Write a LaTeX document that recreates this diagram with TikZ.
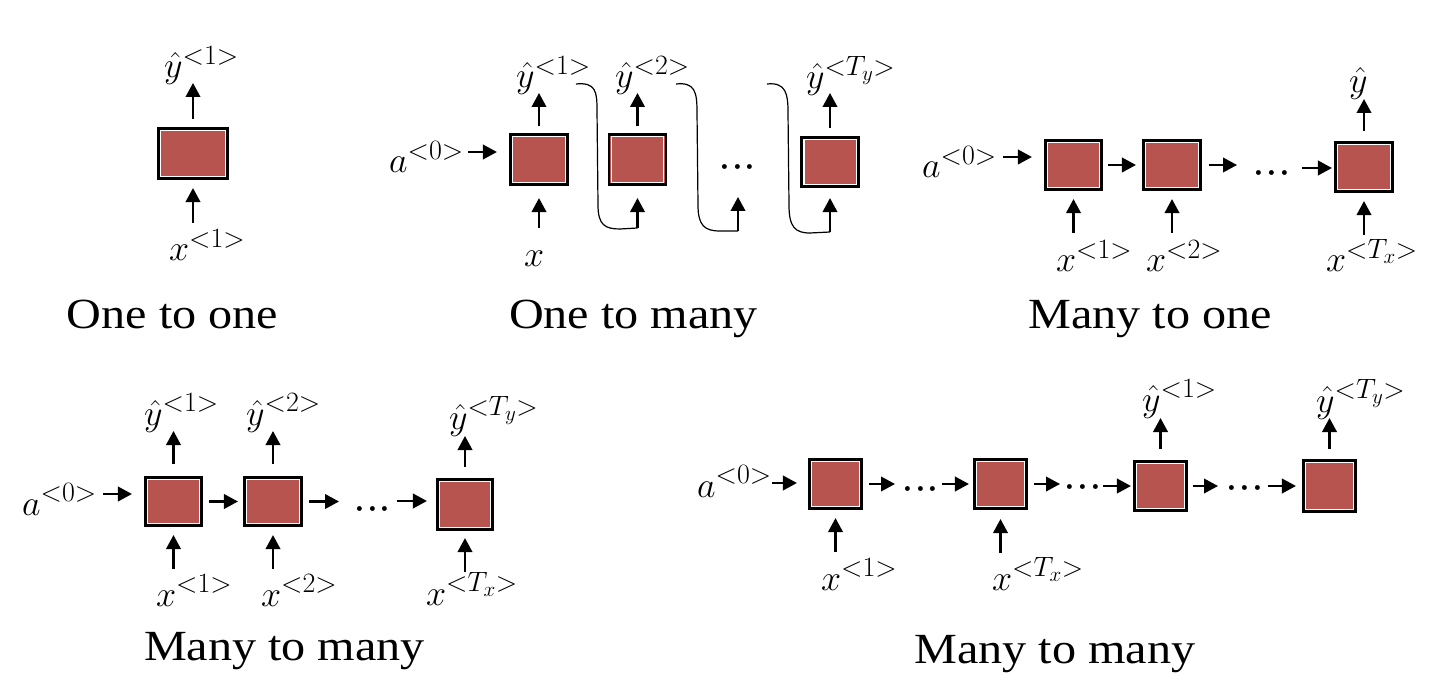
\RequirePackage{fix-cm}
\documentclass[tikz,border=0pt]{standalone}
\usepackage{fontspec}
\newfontfamily\capfont[FakeStretch=1.12]{Liberation Serif}
\usetikzlibrary{arrows.meta,calc}
\DeclareMathSizes{36}{36}{28}{21}
\definecolor{cellred}{RGB}{183,84,80}
\begin{document}
\begin{tikzpicture}[x=1pt,y=-1pt,
  cell/.style={draw=black, line width=2.6pt, fill=cellred, inner sep=0pt,
    path picture={\draw[white, line width=1.1pt]
      ([shift={(2.2pt,-2.2pt)}]path picture bounding box.north west) rectangle
      ([shift={(-2.2pt,2.2pt)}]path picture bounding box.south east);}},
  arr/.style={line width=2.2pt, -{Triangle[length=14pt,width=14.5pt]}},
  link/.style={line width=1.2pt},
  lbl/.style={inner sep=0pt, anchor=base west, font=\fontsize{36}{40}\selectfont},
  captext/.style={inner sep=0pt, anchor=base, font=\capfont\fontsize{43}{50}\selectfont},
  dotsn/.style={inner sep=0pt, anchor=base, font=\fontsize{46}{50}\selectfont}]
\useasboundingbox (0,0) rectangle (1437,676);

% ---------------- Panel 1: One to one ----------------
\node[cell, minimum width=69.5pt, minimum height=50.5pt] (P1) at (193,153.5) {};
\coordinate (p1y) at (193,83);
\coordinate (p1x) at (193,223);
\draw[arr, shorten <=8pt] (P1.north) -- (p1y);
\draw[arr, shorten >=8pt] (p1x) -- (P1.south);
\node[lbl] (l1y) at (164,78) {$\hat{y}^{<1>}$};
\node[lbl] (l1x) at (169,261) {$x^{<1>}$};
\node[captext] (c1) at (172.5,328) {One to one};

% ---------------- Panel 2: One to many ----------------
\node[cell, minimum width=57.5pt, minimum height=50.5pt] (Q1) at (539,159.5) {};
\node[cell, minimum width=57pt, minimum height=50.5pt] (Q2) at (637.5,159.5) {};
\node[cell, minimum width=56.5pt, minimum height=49.5pt] (Q3) at (830,162) {};
\coordinate (qy1) at (539,93);
\coordinate (qy2) at (637.5,93);
\coordinate (qy3) at (830,93);
\draw[arr, shorten <=7pt] (Q1.north) -- (qy1);
\draw[arr, shorten <=7pt] (Q2.north) -- (qy2);
\draw[arr, shorten <=8pt] (Q3.north) -- (qy3);
\coordinate (qa) at (468,152);
\draw[arr, shorten >=12pt] (qa) -- (qa -| Q1.west);
\node[lbl] (l2a) at (389,173) {$a^{<0>}$};
\coordinate (qx1) at (539,228);
\coordinate (qx2) at (637.5,228);
\coordinate (qx3) at (738,231);
\coordinate (qt3) at (738,197);
\coordinate (qx4) at (830,232);
\draw[arr, shorten >=12pt] (qx1) -- (Q1.south);
\draw[arr, shorten >=12pt] (qx2) -- (Q2.south);
\draw[arr] (qx3) -- (qt3);
\draw[arr, shorten >=10pt] (qx4) -- (Q3.south);
\node[lbl] (l2x) at (524,267) {$x$};
\node[lbl] (l2y1) at (516,88) {$\hat{y}^{<1>}$};
\node[lbl] (l2y2) at (615,88) {$\hat{y}^{<2>}$};
\node[lbl] (l2y3) at (806,89) {$\hat{y}^{<T_y>}$};
\coordinate (cs1) at (576,84);
\coordinate (cs2) at (676,84);
\coordinate (cs3) at (767,84);
\draw[link] (cs1) .. controls (596,82) and (597,92) .. (597,110) -- (598,205)
  .. controls (598,225) and (605,229) .. (620,229) -- (qx2);
\draw[link] (cs2) .. controls (695,82) and (697,92) .. (697,112) -- (698,205)
  .. controls (698,226) and (705,231) .. (720,231) -- (qx3);
\draw[link] (cs3) .. controls (786,82) and (788,94) .. (788,112) -- (789,205)
  .. controls (789,227) and (795,233) .. (810,233) -- (qx4);
\node[dotsn] (d2) at (737.5,179) {${\cdotp}{\cdotp}{\cdotp}$};
\node[captext] (c2) at (633.5,328) {One to many};

% ---------------- Panel 3: Many to one ----------------
\node[cell, minimum width=56.5pt, minimum height=49.5pt] (R1) at (1073.5,165) {};
\node[cell, minimum width=57.5pt, minimum height=49.5pt] (R2) at (1172,165) {};
\node[cell, minimum width=57.5pt, minimum height=49.5pt] (R3) at (1364,167) {};
\coordinate (ra) at (1003,157);
\draw[arr, shorten >=12pt] (ra) -- (ra -| R1.west);
\node[lbl] (l3a) at (922,178) {$a^{<0>}$};
\draw[arr, shorten <=5pt, shorten >=6pt] (R1.east) -- (R2.west);
\coordinate (re2) at (1237,165);
\draw[arr, shorten <=7pt] (R2.east) -- (re2);
\node[dotsn] (d3) at (1272,185) {${\cdotp}{\cdotp}{\cdotp}$};
\coordinate (rs3) at (1302,168);
\draw[arr, shorten >=2pt] (rs3) -- (rs3 -| R3.west);
\coordinate (ry3) at (1364,99);
\draw[arr, shorten <=10pt] (R3.north) -- (ry3);
\node[lbl] (l3y) at (1349,93) {$\hat{y}$};
\coordinate (rx1) at (1073.5,233);
\coordinate (rx2) at (1172,233);
\coordinate (rx3) at (1364,235);
\draw[arr, shorten >=8pt] (rx1) -- (R1.south);
\draw[arr, shorten >=8pt] (rx2) -- (R2.south);
\draw[arr, shorten >=8pt] (rx3) -- (R3.south);
\node[lbl] (l3x1) at (1056,272) {$x^{<1>}$};
\node[lbl] (l3x2) at (1146,272) {$x^{<2>}$};
\node[lbl] (l3x3) at (1326,272) {$x^{<T_x>}$};
\node[captext] (c3) at (1150,328) {Many to one};

% ---------------- Panel 4: Many to many (aligned) ----------------
\node[cell, minimum width=56.5pt, minimum height=48.5pt] (S1) at (173.5,501.5) {};
\node[cell, minimum width=57.5pt, minimum height=48.5pt] (S2) at (273,501.5) {};
\node[cell, minimum width=55.5pt, minimum height=50.5pt] (S3) at (465,504.5) {};
\coordinate (sa) at (103,494);
\draw[arr, shorten >=12pt] (sa) -- (sa -| S1.west);
\node[lbl] (l4a) at (22,515) {$a^{<0>}$};
\draw[arr, shorten <=6pt, shorten >=5pt] (S1.east) -- (S2.west);
\coordinate (se2) at (339,501.5);
\draw[arr, shorten <=6pt] (S2.east) -- (se2);
\node[dotsn] (d4) at (372.5,520) {${\cdotp}{\cdotp}{\cdotp}$};
\coordinate (ss3) at (397,501);
\draw[arr, shorten >=9pt] (ss3) -- (ss3 -| S3.west);
\coordinate (sy1) at (173.5,431);
\coordinate (sy2) at (273,431);
\coordinate (sy3) at (465,436);
\draw[arr, shorten <=12pt] (S1.north) -- (sy1);
\draw[arr, shorten <=12pt] (S2.north) -- (sy2);
\draw[arr, shorten <=11pt] (S3.north) -- (sy3);
\coordinate (sx1) at (173.5,569);
\coordinate (sx2) at (273,569);
\coordinate (sx3) at (465,572);
\draw[arr, shorten >=8pt] (sx1) -- (S1.south);
\draw[arr, shorten >=8pt] (sx2) -- (S2.south);
\draw[arr, shorten >=7pt] (sx3) -- (S3.south);
\node[lbl] (l4y1) at (144,425) {$\hat{y}^{<1>}$};
\node[lbl] (l4y2) at (246,425) {$\hat{y}^{<2>}$};
\node[lbl] (l4y3) at (449,429) {$\hat{y}^{<T_y>}$};
\node[lbl] (l4x1) at (156,606) {$x^{<1>}$};
\node[lbl] (l4x2) at (261,606) {$x^{<2>}$};
\node[lbl] (l4x3) at (426,605) {$x^{<T_x>}$};
\node[captext] (c4) at (284.5,660) {Many to many};

% ---------------- Panel 5: Many to many (encoder-decoder) ----------------
\node[cell, minimum width=52.5pt, minimum height=49.5pt] (T1) at (835.5,484) {};
\node[cell, minimum width=52.5pt, minimum height=49.5pt] (T2) at (1000.5,484) {};
\node[cell, minimum width=52.5pt, minimum height=49.5pt] (T3) at (1160.5,486) {};
\node[cell, minimum width=52.5pt, minimum height=51.5pt] (T4) at (1329.5,486) {};
\coordinate (ta) at (772,483);
\draw[arr, shorten >=11pt] (ta) -- (ta -| T1.west);
\node[lbl] (l5a) at (697,497) {$a^{<0>}$};
\coordinate (te1) at (895,484);
\draw[arr, shorten <=6pt] (T1.east) -- (te1);
\node[dotsn] (d5a) at (920.5,500) {${\cdotp}{\cdotp}{\cdotp}$};
\coordinate (ts2) at (942,484);
\draw[arr, shorten >=4pt] (ts2) -- (ts2 -| T2.west);
\coordinate (te2) at (1060,484);
\draw[arr, shorten <=6pt] (T2.east) -- (te2);
\node[dotsn] (d5b) at (1083,498) {${\cdotp}{\cdotp}{\cdotp}$};
\coordinate (ts3) at (1103,486);
\draw[arr, shorten >=2pt] (ts3) -- (ts3 -| T3.west);
\coordinate (te3) at (1218,486);
\draw[arr, shorten <=5pt] (T3.east) -- (te3);
\node[dotsn] (d5c) at (1245,499) {${\cdotp}{\cdotp}{\cdotp}$};
\coordinate (ts4) at (1268,486);
\draw[arr, shorten >=6pt] (ts4) -- (ts4 -| T4.west);
\coordinate (ty3) at (1160.5,418);
\coordinate (ty4) at (1329.5,418);
\draw[arr, shorten <=11pt] (T3.north) -- (ty3);
\draw[arr, shorten <=10pt] (T4.north) -- (ty4);
\coordinate (tx1) at (835.5,552);
\coordinate (tx2) at (1000.5,553);
\draw[arr, shorten >=8pt] (tx1) -- (T1.south);
\draw[arr, shorten >=9pt] (tx2) -- (T2.south);
\node[lbl] (l5x1) at (821,590) {$x^{<1>}$};
\node[lbl] (l5x2) at (992,590) {$x^{<T_x>}$};
\node[lbl] (l5y1) at (1142,411) {$\hat{y}^{<1>}$};
\node[lbl] (l5y2) at (1316,412) {$\hat{y}^{<T_y>}$};
\node[captext] (c5) at (1055,663) {Many to many};
\end{tikzpicture}
\end{document}
